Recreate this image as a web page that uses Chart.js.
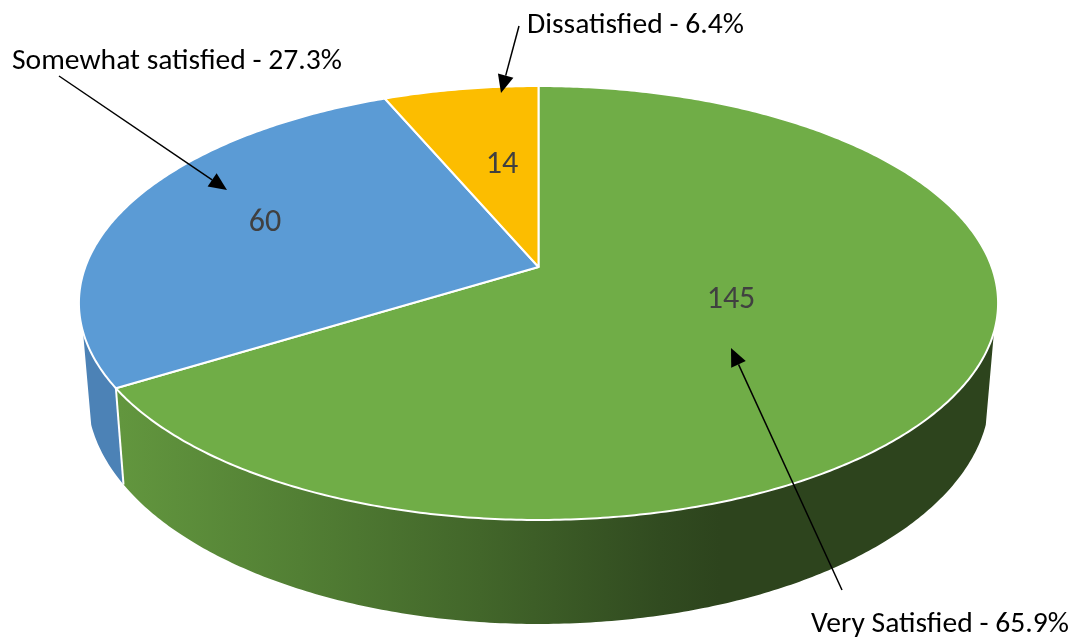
<!DOCTYPE html>
<html>
<head>
<meta charset="utf-8">
<script src="https://cdn.jsdelivr.net/npm/chart.js@4"></script>
<style>
html,body{margin:0;padding:0;background:#fff;}
canvas{display:block;}
</style>
</head>
<body>
<canvas id="c" width="1073" height="637"></canvas>
<script>
const categories = ["Very Satisfied", "Somewhat satisfied", "Dissatisfied"];
const counts = [145, 60, 14];
const percentLabels = ["65.9%", "27.3%", "6.4%"];
const sliceColors = ["#70AD47", "#5B9BD5", "#FCBD00"];

const FONT = 'Carlito, Lato, sans-serif';
// Perspective of the disc: image of a unit circle under a homography.
const CX = 538.5, APEX_Y = 267, PERSP = 0.1659, AX = 453.2, AY = -166.7;
// Lower rim is an affine copy of the upper rim.
const RIM_K = 0.982, RIM_SY = 1.0585, RIM_DY = 73.6;
const WALL_FROM = 107 * Math.PI / 180, WALL_TO = 253 * Math.PI / 180;

function topRim(t) {
  const d = 1 + PERSP * Math.cos(t);
  return [CX + AX * Math.sin(t) / d, (AY * Math.cos(t) + APEX_Y) / d];
}
function lowRim(t) {
  const p = topRim(t);
  return [CX + RIM_K * (p[0] - CX), RIM_SY * p[1] + RIM_DY];
}
function trace(ctx, fn, a, b, first) {
  const n = Math.max(2, Math.ceil(Math.abs(b - a) / 0.01));
  for (let i = 0; i <= n; i++) {
    const p = fn(a + (b - a) * i / n);
    if (i === 0 && first) ctx.moveTo(p[0], p[1]); else ctx.lineTo(p[0], p[1]);
  }
}
function wallFill(ctx, i) {
  if (i === 0) {
    const g = ctx.createLinearGradient(120, 0, 720, 0);
    g.addColorStop(0, "#62963E");
    g.addColorStop(0.3, "#527F34");
    g.addColorStop(0.6, "#42662A");
    g.addColorStop(0.9, "#314B20");
    g.addColorStop(1, "#2D441D");
    return g;
  }
  return "#4C82B6";
}

const arrows = [
  { from: [59, 76], to: [227, 190] },
  { from: [519, 26], to: [501, 93] },
  { from: [842, 590], to: [731, 348] }
];
const outerLabelAnchors = [[811, 632], [12, 69], [527, 33]];
const valueAnchors = [[731, 300], [265, 223], [502, 165]];

const disc3d = {
  id: "disc3d",
  beforeDatasetDraw(chart) {
    const ctx = chart.ctx;
    const arcs = chart.getDatasetMeta(0).data;
    const ang = a => a.startAngle + Math.PI / 2;
    const end = a => a.endAngle + Math.PI / 2;
    ctx.save();
    arcs.forEach((arc, i) => {
      const a = Math.max(ang(arc), WALL_FROM), b = Math.min(end(arc), WALL_TO);
      if (b <= a) return;
      ctx.beginPath();
      trace(ctx, topRim, a, b, true);
      trace(ctx, lowRim, b, a, false);
      ctx.closePath();
      ctx.fillStyle = wallFill(ctx, i);
      ctx.fill();
    });
    arcs.forEach(arc => {
      const a = ang(arc);
      if (a > WALL_FROM && a < WALL_TO) {
        const p = topRim(a), q = lowRim(a);
        ctx.beginPath();
        ctx.moveTo(p[0], p[1]);
        ctx.lineTo(q[0], q[1]);
        ctx.strokeStyle = "#fff";
        ctx.lineWidth = 2;
        ctx.stroke();
      }
    });
    arcs.forEach(arc => {
      ctx.beginPath();
      ctx.moveTo(CX, APEX_Y);
      trace(ctx, topRim, ang(arc), end(arc), false);
      ctx.closePath();
      ctx.fillStyle = arc.options.backgroundColor;
      ctx.fill();
      ctx.strokeStyle = arc.options.borderColor;
      ctx.lineWidth = arc.options.borderWidth;
      ctx.lineJoin = "round";
      ctx.stroke();
    });
    ctx.restore();
    return false;
  },
  afterDatasetsDraw(chart) {
    const ctx = chart.ctx;
    ctx.save();
    ctx.textAlign = "center";
    ctx.fillStyle = "#404040";
    ctx.textBaseline = "middle";
    ctx.font = "32px " + FONT;
    counts.forEach((v, i) => ctx.fillText(String(v), valueAnchors[i][0], valueAnchors[i][1]));
    ctx.textBaseline = "alphabetic";
    ctx.textAlign = "left";
    ctx.fillStyle = "#000";
    ctx.font = "29.6px " + FONT;
    categories.forEach((c, i) => ctx.fillText(c + " - " + percentLabels[i], outerLabelAnchors[i][0], outerLabelAnchors[i][1]));
    arrows.forEach(ar => {
      const dx = ar.to[0] - ar.from[0], dy = ar.to[1] - ar.from[1];
      const L = Math.hypot(dx, dy), ux = dx / L, uy = dy / L;
      const hl = 18, hw = 8;
      const bx = ar.to[0] - ux * hl, by = ar.to[1] - uy * hl;
      ctx.beginPath();
      ctx.moveTo(ar.from[0], ar.from[1]);
      ctx.lineTo(bx, by);
      ctx.strokeStyle = "#000";
      ctx.lineWidth = 1.5;
      ctx.stroke();
      ctx.beginPath();
      ctx.moveTo(ar.to[0], ar.to[1]);
      ctx.lineTo(bx - uy * hw, by + ux * hw);
      ctx.lineTo(bx + uy * hw, by - ux * hw);
      ctx.closePath();
      ctx.fillStyle = "#000";
      ctx.fill();
    });
    ctx.restore();
  }
};

new Chart(document.getElementById("c"), {
  type: "pie",
  data: {
    labels: categories,
    datasets: [{
      data: counts,
      backgroundColor: sliceColors,
      borderColor: "#FFFFFF",
      borderWidth: 2
    }]
  },
  options: {
    responsive: false,
    animation: false,
    rotation: 0,
    plugins: { legend: { display: false }, tooltip: { enabled: false }, title: { display: false } }
  },
  plugins: [disc3d]
});
</script>
</body>
</html>
